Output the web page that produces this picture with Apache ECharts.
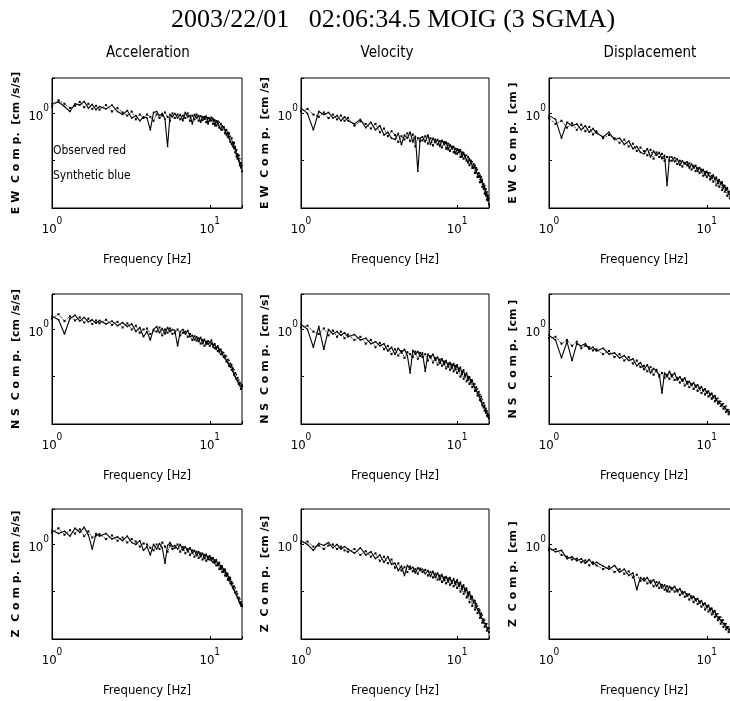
<!DOCTYPE html>
<html>
<head>
<meta charset="UTF-8">
<title>Spectra MOIG</title>
<script src="https://cdn.jsdelivr.net/npm/echarts@6/dist/echarts.min.js"></script>
<style>
  html, body { margin: 0; padding: 0; background: #fff; }
  #main { width: 730px; height: 701px; }
</style>
</head>
<body>
<div id="main"></div>
<script>
// frequencies [Hz]
var freq = [1.0,1.1,1.2,1.3,1.4,1.5,1.6,1.7,1.8,1.9,
  2.0,2.2,2.4,2.6,2.8,3.0,3.2,3.4,3.6,3.8,
  4.0,4.2,4.4,4.6,4.8,5.0,5.2,5.4,5.6,5.8,
  6.0,6.25,6.5,6.75,7.0,7.25,7.5,7.75,8.0,8.25,8.5,8.75,9.0,9.25,9.5,9.75,
  10.0,10.25,10.5,10.75,11.0,11.25,11.5,11.75,12.0,12.25,12.5,12.75,13.0,13.25,13.5,13.75,
  14.0,14.25,14.5,14.75,15.0,15.25,15.5,15.75,16.0];

// EW component, observed
var ewAcc = [1.6,1.75,1.4,1.1,1.6,1.5,1.8,1.3,1.55,1.2,
  1.4,1.25,1.5,1.1,0.95,1.15,0.8,0.9,0.7,0.85,
  0.8,0.45,1.05,1.1,0.9,1.0,0.75,0.2,0.95,0.85,
  1.0,0.8,0.95,0.7,1.05,0.85,0.9,0.6,0.95,0.8,0.9,0.65,0.85,0.75,0.88,0.6,
  0.8,0.7,0.78,0.55,0.7,0.6,0.65,0.45,0.55,0.5,0.45,0.35,0.4,0.3,0.33,0.22,
  0.25,0.18,0.2,0.12,0.14,0.1,0.11,0.07,0.08];
var ewVel = [1.3,1.0,0.45,1.1,0.95,1.05,0.8,0.9,0.7,0.85,
  0.7,0.6,0.75,0.5,0.65,0.45,0.55,0.35,0.4,0.3,
  0.28,0.38,0.22,0.35,0.3,0.4,0.25,0.33,0.06,0.3,
  0.32,0.25,0.35,0.22,0.3,0.24,0.28,0.2,0.27,0.22,0.25,0.17,0.22,0.18,0.2,0.14,
  0.18,0.15,0.17,0.12,0.15,0.12,0.13,0.09,0.11,0.09,0.095,0.07,0.08,0.06,0.065,0.045,
  0.05,0.035,0.04,0.025,0.03,0.018,0.022,0.014,0.016];
var ewDisp = [0.9,0.75,0.3,0.65,0.55,0.6,0.45,0.55,0.4,0.48,
  0.38,0.32,0.4,0.28,0.3,0.22,0.26,0.18,0.2,0.15,
  0.14,0.18,0.12,0.16,0.13,0.15,0.11,0.13,0.03,0.12,
  0.12,0.095,0.11,0.08,0.1,0.085,0.095,0.07,0.085,0.07,0.08,0.06,0.072,0.058,0.065,0.05,
  0.06,0.05,0.055,0.042,0.05,0.04,0.045,0.033,0.04,0.032,0.036,0.026,0.03,0.024,0.027,0.02,
  0.022,0.018,0.02,0.015,0.016,0.012,0.013,0.01,0.011];

// EW component, synthetic
var ewAccSyn = [1.4,1.9,1.6,1.3,1.45,1.75,1.35,1.6,1.25,1.45,
  1.2,1.5,1.1,1.3,1.05,0.9,1.1,0.75,0.95,0.8,
  0.95,0.85,0.7,0.95,0.8,0.9,1.05,0.85,0.7,1.0,
  0.8,0.95,0.75,0.9,0.8,1.0,0.7,0.9,0.75,0.95,0.7,0.88,0.72,0.85,0.65,0.8,
  0.7,0.82,0.6,0.72,0.55,0.68,0.5,0.6,0.45,0.52,0.38,0.45,0.32,0.38,0.25,0.3,
  0.2,0.24,0.15,0.17,0.11,0.13,0.08,0.09,0.06];
var ewVelSyn = [1.1,1.25,0.95,0.85,1.05,0.8,0.95,0.75,0.9,0.7,
  0.8,0.55,0.68,0.6,0.48,0.6,0.4,0.48,0.33,0.42,
  0.35,0.25,0.33,0.28,0.38,0.26,0.36,0.2,0.3,0.26,
  0.27,0.33,0.23,0.3,0.21,0.28,0.22,0.26,0.19,0.25,0.18,0.23,0.16,0.2,0.15,0.18,
  0.14,0.17,0.12,0.15,0.11,0.13,0.1,0.12,0.08,0.1,0.07,0.085,0.055,0.07,0.045,0.055,
  0.035,0.045,0.028,0.032,0.02,0.025,0.015,0.018,0.012];
var ewDispSyn = [0.8,0.6,0.7,0.5,0.62,0.45,0.58,0.42,0.52,0.36,
  0.42,0.3,0.35,0.3,0.24,0.28,0.2,0.23,0.16,0.19,
  0.16,0.13,0.17,0.11,0.15,0.12,0.14,0.1,0.12,0.1,
  0.1,0.115,0.085,0.1,0.075,0.09,0.08,0.088,0.065,0.078,0.06,0.07,0.055,0.065,0.048,0.058,
  0.045,0.055,0.04,0.048,0.036,0.042,0.03,0.038,0.028,0.034,0.024,0.03,0.022,0.026,0.018,0.022,
  0.016,0.019,0.014,0.016,0.012,0.013,0.011,0.011,0.01];

// NS component, observed
var nsAcc = [1.9,1.6,0.8,1.7,2.0,1.5,1.8,1.45,1.6,1.35,
  1.55,1.3,1.5,1.2,1.4,1.15,1.3,0.9,1.1,0.7,
  0.9,0.6,1.0,1.15,0.85,1.05,0.8,1.1,0.9,1.0,
  0.95,0.45,0.9,1.0,0.8,0.95,0.7,0.75,0.6,0.7,0.55,0.68,0.5,0.62,0.48,0.58,
  0.52,0.6,0.42,0.5,0.38,0.45,0.33,0.38,0.3,0.32,0.25,0.27,0.2,0.22,0.16,0.18,
  0.13,0.14,0.1,0.11,0.08,0.085,0.065,0.07,0.06];
var nsVel = [1.3,1.0,0.42,1.15,0.38,1.0,0.8,0.9,0.75,0.85,
  0.7,0.78,0.6,0.65,0.5,0.55,0.45,0.5,0.35,0.42,
  0.3,0.4,0.32,0.38,0.28,0.12,0.36,0.3,0.34,0.27,
  0.32,0.13,0.3,0.25,0.3,0.22,0.26,0.19,0.24,0.18,0.22,0.16,0.2,0.15,0.19,0.14,
  0.18,0.13,0.16,0.11,0.14,0.1,0.12,0.085,0.1,0.075,0.085,0.065,0.07,0.052,0.055,0.04,
  0.042,0.03,0.033,0.022,0.025,0.017,0.019,0.014,0.015];
var nsDisp = [0.75,0.6,0.25,0.55,0.22,0.5,0.45,0.5,0.38,0.42,
  0.35,0.4,0.3,0.32,0.25,0.28,0.22,0.24,0.17,0.2,
  0.14,0.18,0.12,0.15,0.13,0.11,0.045,0.12,0.1,0.13,
  0.1,0.12,0.085,0.1,0.08,0.095,0.07,0.08,0.065,0.075,0.06,0.068,0.055,0.062,0.05,0.056,
  0.045,0.05,0.04,0.045,0.036,0.04,0.032,0.035,0.028,0.03,0.025,0.027,0.022,0.024,0.019,0.02,
  0.017,0.017,0.015,0.015,0.013,0.013,0.012,0.011,0.011];

// NS component, synthetic
var nsAccSyn = [1.7,2.1,1.5,1.9,1.55,1.8,1.4,1.7,1.3,1.55,
  1.35,1.6,1.25,1.45,1.1,1.35,1.0,1.2,0.85,1.0,
  1.05,0.8,0.95,0.9,1.1,0.75,1.0,0.85,1.05,0.8,
  0.85,1.0,0.75,0.85,0.9,0.7,0.8,0.6,0.72,0.58,0.65,0.5,0.6,0.45,0.55,0.5,
  0.45,0.5,0.48,0.4,0.42,0.35,0.38,0.3,0.33,0.26,0.28,0.21,0.23,0.17,0.19,0.14,
  0.15,0.11,0.12,0.09,0.095,0.07,0.075,0.055,0.065];
var nsVelSyn = [1.1,1.2,0.9,0.8,1.05,0.75,0.95,0.7,0.9,0.65,
  0.78,0.6,0.7,0.5,0.6,0.42,0.52,0.38,0.45,0.3,
  0.38,0.28,0.35,0.25,0.33,0.3,0.26,0.34,0.24,0.32,
  0.26,0.3,0.22,0.27,0.2,0.25,0.18,0.23,0.17,0.21,0.15,0.19,0.14,0.18,0.13,0.17,
  0.12,0.15,0.1,0.13,0.09,0.11,0.08,0.1,0.07,0.085,0.06,0.07,0.05,0.06,0.04,0.048,
  0.032,0.038,0.025,0.028,0.019,0.021,0.015,0.016,0.013];
var nsDispSyn = [0.65,0.7,0.5,0.6,0.45,0.55,0.4,0.45,0.42,0.36,
  0.38,0.3,0.35,0.26,0.3,0.22,0.26,0.19,0.22,0.16,
  0.17,0.13,0.16,0.11,0.14,0.1,0.12,0.095,0.11,0.09,
  0.11,0.085,0.095,0.075,0.088,0.065,0.078,0.06,0.07,0.055,0.065,0.05,0.058,0.045,0.052,0.042,
  0.048,0.038,0.043,0.034,0.038,0.03,0.034,0.027,0.03,0.024,0.026,0.021,0.023,0.018,0.02,0.016,
  0.018,0.015,0.016,0.013,0.014,0.012,0.012,0.01,0.01];

// Z component, observed
var zAcc = [2.0,1.7,1.9,1.5,2.2,1.8,2.3,1.6,0.8,1.7,
  1.5,1.7,1.3,1.45,1.2,1.5,1.1,1.0,1.2,0.75,
  0.9,0.6,1.0,0.8,1.05,0.85,0.4,0.95,1.1,0.9,
  0.95,0.8,1.0,0.75,0.9,0.7,0.85,0.65,0.75,0.58,0.7,0.55,0.65,0.5,0.62,0.48,
  0.58,0.45,0.52,0.4,0.48,0.36,0.42,0.3,0.35,0.26,0.3,0.21,0.24,0.17,0.2,0.14,
  0.15,0.11,0.12,0.085,0.09,0.065,0.07,0.05,0.055];
var zVel = [1.2,1.0,0.75,1.05,0.95,1.1,0.85,1.0,0.8,0.9,
  0.8,0.65,0.85,0.6,0.7,0.5,0.6,0.42,0.55,0.38,
  0.4,0.28,0.35,0.22,0.36,0.3,0.33,0.25,0.32,0.28,
  0.3,0.24,0.28,0.21,0.27,0.2,0.25,0.18,0.23,0.17,0.21,0.16,0.2,0.15,0.19,0.14,
  0.18,0.13,0.16,0.11,0.14,0.1,0.12,0.08,0.1,0.07,0.08,0.058,0.065,0.048,0.05,0.038,
  0.04,0.03,0.032,0.023,0.025,0.02,0.021,0.016,0.017];
var zDisp = [0.85,0.7,0.75,0.5,0.55,0.45,0.5,0.4,0.48,0.38,
  0.42,0.35,0.3,0.36,0.26,0.3,0.22,0.25,0.11,0.2,
  0.17,0.2,0.15,0.18,0.13,0.16,0.12,0.14,0.1,0.13,
  0.11,0.13,0.1,0.115,0.09,0.1,0.08,0.09,0.072,0.08,0.065,0.072,0.058,0.065,0.052,0.058,
  0.046,0.052,0.04,0.045,0.035,0.04,0.031,0.034,0.027,0.029,0.023,0.025,0.02,0.021,0.017,0.018,
  0.015,0.015,0.013,0.013,0.012,0.011,0.011,0.01,0.01];

// Z component, synthetic
var zAccSyn = [1.8,2.2,1.6,2.0,1.7,2.1,1.5,1.9,1.4,1.55,
  1.65,1.3,1.55,1.2,1.4,1.1,1.3,1.15,0.9,1.05,
  1.0,0.85,0.75,1.0,0.8,1.1,0.9,0.7,0.95,0.8,
  0.85,1.0,0.7,0.88,0.65,0.8,0.6,0.75,0.55,0.7,0.52,0.65,0.48,0.6,0.45,0.55,
  0.48,0.52,0.42,0.46,0.36,0.4,0.3,0.35,0.26,0.3,0.22,0.25,0.18,0.2,0.15,0.16,
  0.12,0.13,0.095,0.1,0.075,0.075,0.058,0.06,0.05];
var zVelSyn = [1.05,1.15,0.9,0.95,0.8,0.95,1.0,0.8,0.9,0.75,
  0.7,0.8,0.6,0.72,0.55,0.65,0.45,0.55,0.4,0.48,
  0.32,0.4,0.28,0.33,0.26,0.34,0.27,0.3,0.24,0.31,
  0.26,0.29,0.22,0.26,0.2,0.24,0.18,0.22,0.16,0.2,0.15,0.19,0.14,0.17,0.13,0.16,
  0.12,0.15,0.1,0.13,0.09,0.115,0.075,0.095,0.06,0.08,0.05,0.065,0.042,0.055,0.035,0.043,
  0.028,0.035,0.022,0.026,0.018,0.021,0.015,0.017,0.014];
var zDispSyn = [0.75,0.8,0.6,0.55,0.48,0.5,0.42,0.46,0.36,0.42,
  0.36,0.3,0.34,0.26,0.3,0.24,0.27,0.2,0.23,0.17,
  0.19,0.15,0.17,0.13,0.16,0.12,0.14,0.11,0.13,0.1,
  0.12,0.1,0.11,0.085,0.1,0.078,0.088,0.068,0.08,0.06,0.07,0.055,0.062,0.048,0.055,0.042,
  0.05,0.038,0.044,0.033,0.038,0.029,0.033,0.025,0.029,0.021,0.025,0.018,0.021,0.016,0.018,0.014,
  0.016,0.013,0.014,0.012,0.012,0.011,0.01,0.01,0.01];

var obsData = [ewAcc, ewVel, ewDisp, nsAcc, nsVel, nsDisp, zAcc, zVel, zDisp];
var synData = [ewAccSyn, ewVelSyn, ewDispSyn, nsAccSyn, nsVelSyn, nsDispSyn, zAccSyn, zVelSyn, zDispSyn];
var rowNames = ['E W  C o m p.', 'N S  C o m p.', 'Z  C o m p.'];
var units = ['[cm /s/s]', '[cm /s]', '[cm ]'];
var colTitles = ['Acceleration', 'Velocity', 'Displacement'];

var narrow = '"Liberation Sans Narrow", "DejaVu Sans Condensed", "Liberation Sans", sans-serif';
var colLeft = [52, 301, 549];
var colWidth = [190, 188, 190];
var rowTop = [78, 294, 509];
var boxH = 130;

function isPow(v, p) {
  return Math.abs(Math.log10(v) - p) < 1e-6;
}
var supRich = {
  b: { fontSize: 13, fontFamily: narrow, color: '#000', verticalAlign: 'bottom', lineHeight: 20 },
  s: { fontSize: 10, fontFamily: narrow, color: '#000', verticalAlign: 'top', lineHeight: 20 }
};

function pairs(ys) {
  return freq.map(function (f, k) { return [f, ys[k]]; });
}

var grids = [], xAxes = [], yAxes = [], series = [];
for (var r = 0; r < 3; r++) {
  for (var c = 0; c < 3; c++) {
    var i = r * 3 + c;
    grids.push({
      left: colLeft[c], top: rowTop[r], width: colWidth[c], height: boxH,
      show: true, borderColor: '#000', borderWidth: 1,
      outerBoundsMode: 'none', containLabel: false
    });
    xAxes.push({
      type: 'log', logBase: 10, gridIndex: i, min: 1, max: 16,
      name: 'Frequency [Hz]', nameLocation: 'middle', nameGap: 45,
      nameTextStyle: { fontFamily: narrow, fontSize: 13, color: '#000' },
      axisLine: { lineStyle: { color: '#000', width: 1 } },
      axisTick: { inside: true, length: 3, lineStyle: { color: '#000' } },
      splitLine: { show: false },
      axisLabel: {
        margin: 8,
        formatter: function (v) {
          if (isPow(v, 0)) return '{b|10}{s|0}';
          if (isPow(v, 1)) return '{b|10}{s|1}';
          return '';
        },
        rich: supRich
      }
    });
    yAxes.push({
      type: 'log', logBase: 10, gridIndex: i, min: 0.01, max: 5.62,
      name: rowNames[r] + '  ' + units[c], nameLocation: 'middle', nameGap: 30, nameRotate: 90,
      nameTextStyle: { fontFamily: '"DejaVu Sans", sans-serif', fontSize: 11, color: '#000', fontWeight: 'bold' },
      axisLine: { lineStyle: { color: '#000', width: 1 } },
      axisTick: { inside: true, length: 3, lineStyle: { color: '#000' } },
      splitLine: { show: false },
      axisLabel: {
        margin: 3,
        formatter: function (v) {
          return isPow(v, 0) ? '{b|10}{s|0}' : '';
        },
        rich: supRich
      }
    });
    // observed
    series.push({
      type: 'line', xAxisIndex: i, yAxisIndex: i,
      data: pairs(obsData[i]),
      symbol: 'rect', symbolSize: 1.5, showSymbol: true,
      itemStyle: { color: '#000' },
      lineStyle: { color: '#000', width: 1.1 },
      clip: true, silent: true, animation: false
    });
    // synthetic
    series.push({
      type: 'line', xAxisIndex: i, yAxisIndex: i,
      data: pairs(synData[i]),
      symbol: 'rect', symbolSize: 2, showSymbol: true,
      itemStyle: { color: '#000' },
      lineStyle: { color: '#000', width: 1, type: 'dotted' },
      clip: true, silent: true, animation: false
    });
  }
}

var titles = [{
  text: '2003/22/01   02:06:34.5 MOIG (3 SGMA)',
  left: 388, top: 2, textAlign: 'center',
  textStyle: { fontFamily: '"Liberation Serif", "DejaVu Serif", serif', fontSize: 26, fontWeight: 'normal', color: '#000' }
}];
var colCenters = [143, 382, 645];
for (var c2 = 0; c2 < 3; c2++) {
  titles.push({
    text: colTitles[c2], left: colCenters[c2], top: 41, textAlign: 'center',
    textStyle: { fontFamily: narrow, fontSize: 15, fontWeight: 'normal', color: '#000' }
  });
}

var chart = echarts.init(document.getElementById('main'), null, { renderer: 'canvas' });
chart.setOption({
  animation: false,
  backgroundColor: '#fff',
  title: titles,
  grid: grids,
  xAxis: xAxes,
  yAxis: yAxes,
  series: series,
  graphic: [
    { type: 'text', left: 53, top: 145, style: { text: 'Observed red', font: '12px ' + narrow, fill: '#000' } },
    { type: 'text', left: 53, top: 170, style: { text: 'Synthetic blue', font: '12px ' + narrow, fill: '#000' } }
  ]
});
</script>
</body>
</html>
